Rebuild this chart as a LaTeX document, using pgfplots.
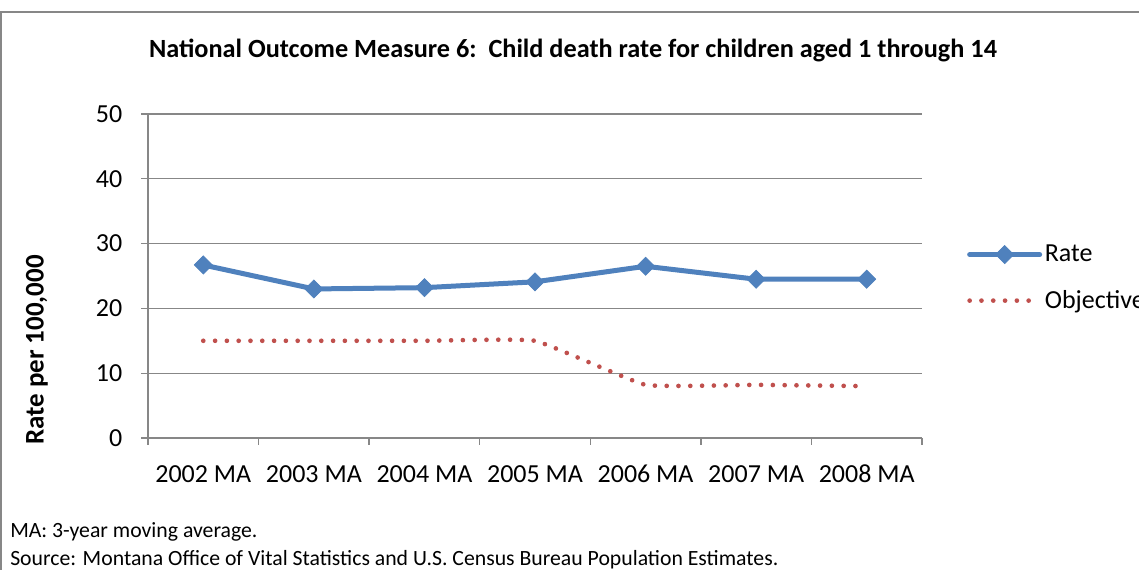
\documentclass[border=0pt]{standalone}
\usepackage{pgfplots}
\pgfplotsset{compat=1.18}
\usepackage{fontspec}
\setmainfont{Carlito}
\definecolor{rateblue}{HTML}{4F81BD}
\definecolor{objred}{HTML}{C0504D}
\definecolor{gridgray}{HTML}{878787}
\begin{document}
\begin{tikzpicture}[x=0.75pt,y=0.75pt]
\useasboundingbox (0,0) rectangle (1139,570);
\clip (0,0) rectangle (1139,570);
\fill[white] (0,0) rectangle (1139,570);
\draw[gridgray, line width=1.5pt] (1,-20) -- (1,558) -- (1160,558);
\node[font=\bfseries\fontsize{19.7}{22}\selectfont] at (573,519) {National Outcome Measure 6:\ \ Child death rate for children aged 1 through 14};
\node[font=\bfseries\fontsize{20.2}{22}\selectfont, rotate=90] at (37,220) {Rate per 100,000};
\node[font=\fontsize{16.3}{18}\selectfont, anchor=west, inner sep=0pt] at (10,38) {MA: 3-year moving average.};
\node[font=\fontsize{16.3}{18}\selectfont, anchor=west, inner sep=0pt] at (10,10) {Source: Montana Office of Vital Statistics and U.S. Census Bureau Population Estimates.};
\begin{axis}[
  at={(111pt,99pt)}, anchor=south west,
  scale only axis, width=580.5pt, height=243pt,
  xmin=0, xmax=7, ymin=0, ymax=50,
  ytick={0,10,...,50},
  ymajorgrids, grid style={gridgray, line width=1pt},
  axis x line=bottom, axis y line=left,
  axis line style={gridgray, line width=1pt, -},
  tick align=outside,
  tick style={gridgray, line width=1pt},
  major tick length=5.25pt,
  xtick={0,1,...,7}, xticklabels={},
  yticklabel style={xshift=-10.5pt},
  extra x ticks={0.5,1.5,...,6.5},
  extra x tick labels={2002 MA,2003 MA,2004 MA,2005 MA,2006 MA,2007 MA,2008 MA},
  extra x tick style={major tick length=0pt, tick label style={yshift=-22.5pt, text height=1.6ex, text depth=0.3ex}},
  tick label style={font=\fontsize{19.5}{22}\selectfont, black},
  /pgf/number format/assume math mode=true,
  legend style={draw=none, fill=none, at={(axis description cs:1.058,0.494)}, anchor=west,
    font=\fontsize{19.5}{22}\selectfont, row sep=16pt, inner sep=0pt},
  legend cell align=left,
]
\addplot[rateblue, line width=3.75pt, line cap=round, mark=square*, mark size=4.8pt,
  mark options={rotate=45, solid, line width=0.5pt},
  legend image code/.code={\draw[mark repeat=2,mark phase=2] plot coordinates {(0pt,0pt)(26.25pt,0pt)(52.5pt,0pt)};}]
  coordinates {(0.5,26.7) (1.5,23.0) (2.5,23.2) (3.5,24.1) (4.5,26.5) (5.5,24.5) (6.5,24.5)};
\addlegendentry{Rate}
\addplot[objred, line width=3.5pt, line cap=round, dash pattern=on 0pt off 8.85pt, smooth, tension=0.2,
  legend image code/.code={\draw plot coordinates {(0pt,0pt)(52.5pt,0pt)};}]
  coordinates {(0.5,15) (1.5,15) (2.5,15) (3.5,15) (4.5,8.2) (5.5,8.2) (6.5,8.0)};
\addlegendentry{Objective}
\end{axis}
\end{tikzpicture}
\end{document}
